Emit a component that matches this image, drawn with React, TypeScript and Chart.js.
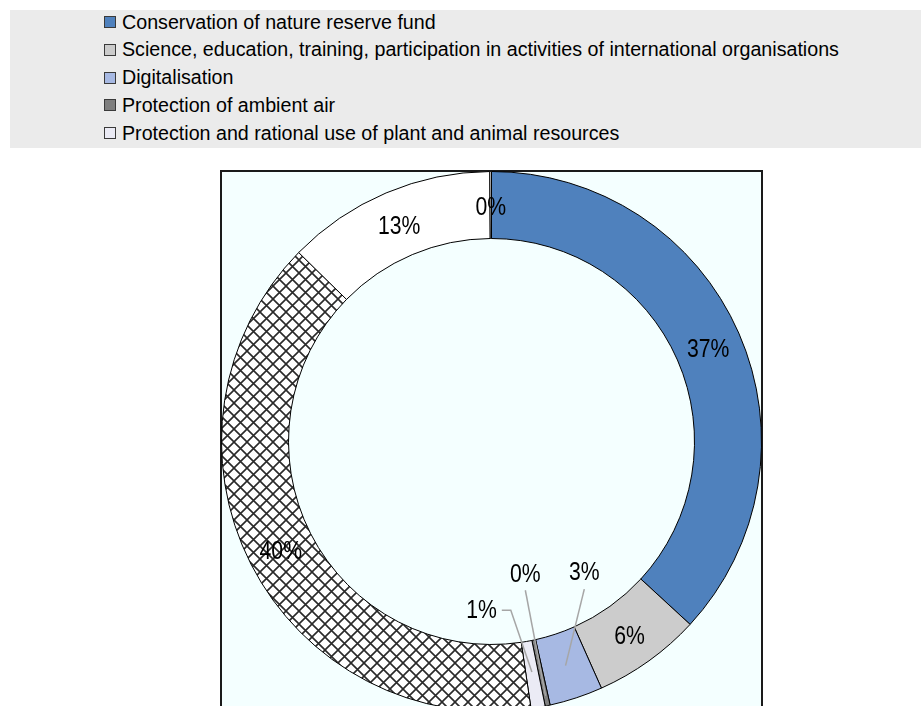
import React, { useEffect, useRef } from "react";
import { Chart, registerables } from "chart.js";

Chart.register(...registerables);

// ---- data ----
const categories = [
  "Conservation of nature reserve fund",
  "Science, education, training, participation in activities of international organisations",
  "Digitalisation",
  "Protection of ambient air",
  "Protection and rational use of plant and animal resources",
  "Other (hatched)",
  "Other (white)",
  "Other (minor)",
];
const shares = [36.96, 6.5, 3.2, 0.3, 0.85, 39.8, 12.6, 0.1];
const legendCount = 5;

// ---- styles ----
const sliceColors = ["#4F81BD", "#CCCCCC", "#A7B9E3", "#7F7F7F", "#EBEBF5", "hatch", "#FFFFFF", "#FFFFFF"];
const FONT = '"Liberation Sans", Arial, sans-serif';

// label placement for small slices (polar, relative to doughnut centre)
const smallLabelPlacement: Record<number, { angle: number; r: number; anchorR: number; from: "bottom" | "right" }> = {
  2: { angle: 144.8, r: 161, anchorR: 236, from: "bottom" },
  3: { angle: 165.7, r: 137, anchorR: 260, from: "bottom" },
  4: { angle: 183.4, r: 169, anchorR: 234, from: "right" },
};

function makeHatch(): CanvasPattern | string {
  const p = 13;
  const c = document.createElement("canvas");
  c.width = p;
  c.height = p;
  const g = c.getContext("2d");
  if (!g) return "#ffffff";
  g.fillStyle = "#ffffff";
  g.fillRect(0, 0, p, p);
  g.strokeStyle = "#2a2a2a";
  g.lineWidth = 1.6;
  g.beginPath();
  g.moveTo(-1, -1);
  g.lineTo(p + 1, p + 1);
  g.moveTo(-1, p + 1);
  g.lineTo(p + 1, -1);
  g.stroke();
  return g.createPattern(c, "repeat") || "#ffffff";
}

const boxPlugin = {
  id: "boxPlugin",
  beforeDatasetsDraw(chart: any) {
    const { ctx, chartArea: a } = chart;
    ctx.save();
    ctx.fillStyle = "#F4FFFF";
    ctx.fillRect(a.left, a.top, a.right - a.left, a.bottom - a.top);
    ctx.strokeStyle = "#1a1a1a";
    ctx.lineWidth = 2;
    ctx.strokeRect(a.left, a.top, a.right - a.left, a.bottom - a.top);
    ctx.restore();
  },
};

const LABEL_SCALE_X = 0.8;

const labelPlugin = {
  id: "labelPlugin",
  afterDatasetsDraw(chart: any) {
    const { ctx } = chart;
    const meta = chart.getDatasetMeta(0);
    const data = chart.data.datasets[0].data as number[];
    const total = data.reduce((s, v) => s + v, 0);
    const drawText = (txt: string, tx: number, ty: number) => {
      ctx.save();
      ctx.translate(tx, ty);
      ctx.scale(LABEL_SCALE_X, 1);
      ctx.fillText(txt, 0, 0);
      ctx.restore();
    };
    ctx.save();
    ctx.font = `26.5px ${FONT}`;
    ctx.fillStyle = "#000";
    ctx.textAlign = "center";
    ctx.textBaseline = "middle";
    meta.data.forEach((arc: any, i: number) => {
      const { x, y, startAngle, endAngle, innerRadius, outerRadius } = arc.getProps(
        ["x", "y", "startAngle", "endAngle", "innerRadius", "outerRadius"],
        true
      );
      const txt = Math.round((data[i] / total) * 100) + "%";
      const mid = (startAngle + endAngle) / 2;
      const pl = smallLabelPlacement[i];
      if (pl) {
        const la = ((pl.angle - 90) * Math.PI) / 180;
        const lx = x + Math.cos(la) * pl.r;
        const ly = y + Math.sin(la) * pl.r;
        const ax = x + Math.cos(mid) * pl.anchorR;
        const ay = y + Math.sin(mid) * pl.anchorR;
        drawText(txt, lx, ly);
        ctx.strokeStyle = "#A6A6A6";
        ctx.lineWidth = 1.5;
        ctx.beginPath();
        if (pl.from === "bottom") {
          ctx.moveTo(lx, ly + 16);
          ctx.lineTo(ax, ay);
        } else {
          const w = ctx.measureText(txt).width * LABEL_SCALE_X;
          ctx.moveTo(lx + w / 2 + 5, ly);
          ctx.lineTo(lx + w / 2 + 14, ly);
          ctx.lineTo(ax, ay);
        }
        ctx.stroke();
      } else {
        const r = (innerRadius + outerRadius) / 2;
        drawText(txt, x + Math.cos(mid) * r, y + Math.sin(mid) * r + 3);
      }
    });
    ctx.restore();
  },
};

function Legend() {
  return (
    <div
      style={{
        position: "absolute",
        left: 10,
        top: 10,
        width: 911,
        height: 138,
        background: "#EBEBEB",
        fontFamily: FONT,
        fontSize: 20,
        color: "#000",
      }}
    >
      {categories.slice(0, legendCount).map((c, i) => (
        <div
          key={c}
          style={{
            position: "absolute",
            left: 94,
            top: -2 + i * 27.8,
            height: 28,
            display: "flex",
            alignItems: "center",
            whiteSpace: "nowrap",
          }}
        >
          <span
            style={{
              display: "inline-block",
              width: 10,
              height: 10,
              border: "1px solid #3a3a3a",
              background: sliceColors[i],
              marginRight: 6,
            }}
          />
          <span style={{ display: "inline-block", transform: "scaleX(0.983)", transformOrigin: "left center" }}>{c}</span>
        </div>
      ))}
    </div>
  );
}

export default function App() {
  const ref = useRef<HTMLCanvasElement | null>(null);
  useEffect(() => {
    if (!ref.current) return;
    const hatch = makeHatch();
    const bg = sliceColors.map((c) => (c === "hatch" ? hatch : c));
    const chart = new Chart(ref.current, {
      type: "doughnut",
      data: {
        labels: categories,
        datasets: [
          {
            data: shares,
            backgroundColor: bg as any,
            borderColor: "#000000",
            borderWidth: 1,
          },
        ],
      },
      options: {
        animation: false,
        responsive: false,
        maintainAspectRatio: false,
        radius: 270,
        cutout: 203,
        layout: { padding: { left: 221, right: 159, top: 171, bottom: 48 } },
        plugins: {
          legend: { display: false },
          tooltip: { enabled: false },
        },
      } as any,
      plugins: [boxPlugin, labelPlugin],
    });
    return () => chart.destroy();
  }, []);
  return (
    <div style={{ position: "absolute", left: 0, top: 0, width: 921, height: 706, overflow: "hidden" }}>
      <canvas ref={ref} width={921} height={760} style={{ position: "absolute", left: 0, top: 0 }} />
      <Legend />
    </div>
  );
}
